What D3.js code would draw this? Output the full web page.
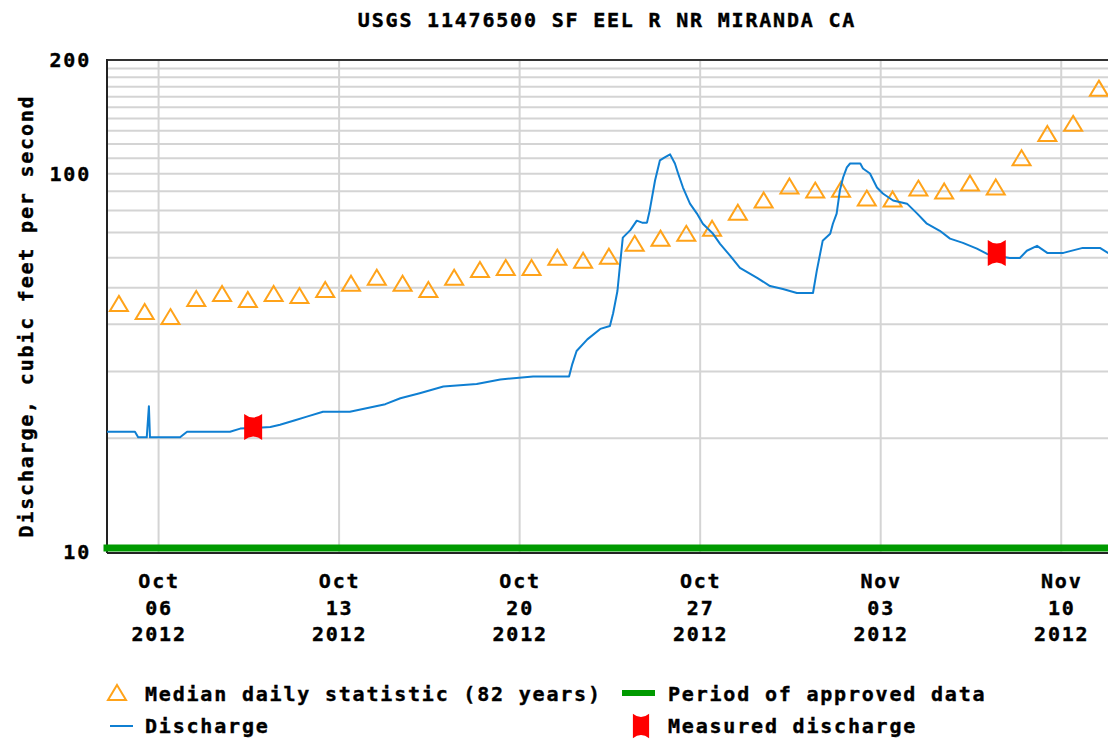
<!DOCTYPE html>
<html>
<head>
<meta charset="utf-8">
<script src="https://cdn.jsdelivr.net/npm/d3@7"></script>
<style>
  body { margin: 0; background: #fff; }
  text { font-family: "DejaVu Sans Mono", monospace; font-weight: bold; font-size: 20px; letter-spacing: 1.8px; fill: #000; stroke: #000; stroke-width: 0.4px; }
</style>
</head>
<body>
<div id="chart"></div>
<script>
// chart data
var title = "USGS 11476500 SF EEL R NR MIRANDA CA";
var yLabel = "Discharge, cubic feet per second";

var medianStart = "2012-10-04";
var medianValues = [45.3, 43.1, 41.8, 46.7, 48.1, 46.4, 48.1, 47.5, 49.3, 51.2,
                    53.1, 51.2, 49.3, 53.1, 55.7, 56.4, 56.4, 60.0, 58.9, 60.4,
                    65.3, 67.4, 69.4, 71.6, 78.9, 85.0, 92.6, 90.3, 90.8, 86.0,
                    85.5, 91.4, 89.8, 94.3, 92.0, 110.0, 127.5, 135.6, 168.0];

var dischargeTimes = [
  "2012-10-04 00:00", "2012-10-05 02:00", "2012-10-05 05:00", "2012-10-05 13:00", "2012-10-05 15:00",
  "2012-10-05 16:00", "2012-10-06 20:00", "2012-10-07 02:30", "2012-10-08 18:30", "2012-10-09 04:00",
  "2012-10-10 08:00", "2012-10-10 17:00", "2012-10-11 07:00", "2012-10-11 18:00", "2012-10-12 09:00",
  "2012-10-13 10:00", "2012-10-14 19:00", "2012-10-15 09:00", "2012-10-16 03:00", "2012-10-17 01:00",
  "2012-10-18 08:00", "2012-10-19 06:00", "2012-10-20 12:30", "2012-10-21 22:00", "2012-10-22 01:00",
  "2012-10-22 05:00", "2012-10-22 15:00", "2012-10-23 03:00", "2012-10-23 12:00", "2012-10-23 15:00",
  "2012-10-23 19:00", "2012-10-23 21:30", "2012-10-24 00:00", "2012-10-24 07:00", "2012-10-24 13:00",
  "2012-10-24 18:00", "2012-10-24 22:30", "2012-10-25 01:00", "2012-10-25 06:00", "2012-10-25 10:30",
  "2012-10-25 15:00", "2012-10-25 20:00", "2012-10-26 00:30", "2012-10-26 03:30", "2012-10-26 08:00",
  "2012-10-26 14:30", "2012-10-26 21:00", "2012-10-27 02:30", "2012-10-27 12:00", "2012-10-27 18:30",
  "2012-10-28 04:00", "2012-10-28 13:00", "2012-10-29 05:00", "2012-10-29 17:00", "2012-10-30 05:00",
  "2012-10-30 18:00", "2012-10-31 09:00", "2012-10-31 12:30", "2012-10-31 18:00", "2012-11-01 01:00",
  "2012-11-01 03:30", "2012-11-01 07:00", "2012-11-01 10:00", "2012-11-01 13:00", "2012-11-01 16:30",
  "2012-11-01 19:30", "2012-11-02 05:00", "2012-11-02 07:30", "2012-11-02 14:00", "2012-11-02 20:30",
  "2012-11-03 02:00", "2012-11-03 11:30", "2012-11-04 00:30", "2012-11-04 10:00", "2012-11-04 19:00",
  "2012-11-05 07:00", "2012-11-05 16:30", "2012-11-06 04:30", "2012-11-06 17:30", "2012-11-07 03:00",
  "2012-11-07 12:00", "2012-11-08 00:00", "2012-11-08 09:30", "2012-11-08 16:00", "2012-11-09 01:30",
  "2012-11-09 11:00", "2012-11-10 02:00", "2012-11-10 20:00", "2012-11-11 12:00", "2012-11-11 19:30",
  "2012-11-12 00:00"
];
var dischargeValues = [
  20.8, 20.8, 20.1, 20.1, 24.3,
  20.1, 20.1, 20.8, 20.8, 21.2,
  21.4, 21.7, 22.3, 22.8, 23.5,
  23.5, 24.6, 25.5, 26.3, 27.4,
  27.8, 28.6, 29.1, 29.1, 31.4,
  34.0, 36.5, 38.9, 39.6, 42.8,
  49.0, 57.8, 67.8, 71.0, 75.2,
  74.3, 74.3, 79.9, 96.0, 108.5,
  110.5, 112.6, 106.5, 100.2, 92.0,
  83.4, 78.5, 73.8, 69.4, 65.3,
  60.7, 56.4, 53.1, 50.5, 49.6,
  48.4, 48.4, 55.4, 66.5, 69.4,
  73.8, 78.5, 90.3, 97.8, 104.0,
  106.5, 106.5, 103.3, 100.2, 92.0,
  88.7, 85.0, 83.4, 78.5, 73.8,
  70.7, 67.4, 65.7, 63.4, 61.4,
  60.7, 59.9, 59.9, 62.6, 64.5,
  61.8, 61.8, 63.7, 63.7, 61.8,
  61.8
];

var measuredTimes = ["2012-10-09 16:00", "2012-11-07 12:00"];
var measuredValues = [21.4, 61.8];

var approvedPeriod = ["2012-10-04 00:00", "2012-11-12 00:00"];
var xDomain = ["2012-10-04 00:00", "2012-11-12 00:00"];
var xTicks = ["2012-10-06", "2012-10-13", "2012-10-20", "2012-10-27", "2012-11-03", "2012-11-10"];
var yTickLabels = [10, 100, 200];
var yGridValues = [20, 30, 40, 50, 60, 70, 80, 90, 100, 110, 120, 130, 140, 150, 160, 170, 180, 190];

// set the dimensions
var W = 1108, H = 740;
var plotLeft = 107, plotTop = 60, plotBottom = 552;
var plotRight = plotLeft + 39 * 25.79;

var parseTime = d3.timeParse("%Y-%m-%d %H:%M");
var parseDay = d3.timeParse("%Y-%m-%d");

var svg = d3.select("#chart")
  .append("svg")
    .attr("width", W)
    .attr("height", H);

var x = d3.scaleTime()
  .domain(xDomain.map(parseTime))
  .range([plotLeft, plotRight]);

var y = d3.scaleLog()
  .domain([10, 200])
  .range([plotBottom, plotTop]);

// grid lines
svg.append("g")
  .selectAll("line")
  .data(yGridValues)
  .enter()
  .append("line")
    .attr("x1", plotLeft).attr("x2", plotRight)
    .attr("y1", function(d) { return y(d); })
    .attr("y2", function(d) { return y(d); })
    .attr("stroke", "#d4d4d4")
    .attr("stroke-width", 2);

svg.append("g")
  .selectAll("line")
  .data(xTicks)
  .enter()
  .append("line")
    .attr("x1", function(d) { return x(parseDay(d)); })
    .attr("x2", function(d) { return x(parseDay(d)); })
    .attr("y1", plotTop).attr("y2", plotBottom)
    .attr("stroke", "#d4d4d4")
    .attr("stroke-width", 2);

// frame
svg.append("line")
  .attr("x1", plotLeft).attr("x2", plotRight)
  .attr("y1", plotTop).attr("y2", plotTop)
  .attr("stroke", "#333").attr("stroke-width", 2);
svg.append("line")
  .attr("x1", plotLeft).attr("x2", plotLeft)
  .attr("y1", plotTop - 1).attr("y2", plotBottom + 1)
  .attr("stroke", "#222").attr("stroke-width", 2);
svg.append("line")
  .attr("x1", plotLeft).attr("x2", plotRight)
  .attr("y1", plotBottom + 1).attr("y2", plotBottom + 1)
  .attr("stroke", "#222").attr("stroke-width", 2);

// period of approved data
svg.append("line")
  .attr("x1", x(parseTime(approvedPeriod[0]))).attr("x2", x(parseTime(approvedPeriod[1])))
  .attr("y1", plotBottom - 4).attr("y2", plotBottom - 4)
  .attr("stroke", "#009a00")
  .attr("stroke-width", 7)
  .attr("stroke-linecap", "square");

// Y axis labels
svg.append("g")
  .attr("transform", "translate(" + plotLeft + ",0)")
  .call(d3.axisLeft(y).tickValues(yTickLabels).tickSize(0).tickPadding(16).tickFormat(d3.format("d")))
  .call(function(g) { g.select(".domain").remove(); })
  .selectAll("text")
    .style("font-family", "DejaVu Sans Mono, monospace")
    .style("font-size", "20px")
    .style("font-weight", "bold")
    .attr("fill", "#000");

// X axis labels (three lines each)
var xAxis = svg.append("g")
  .attr("transform", "translate(0," + plotBottom + ")")
  .call(d3.axisBottom(x).tickValues(xTicks.map(parseDay)).tickSize(0).tickFormat(""));
xAxis.select(".domain").remove();
xAxis.selectAll(".tick text").remove();
var fmts = [d3.timeFormat("%b"), d3.timeFormat("%d"), d3.timeFormat("%Y")];
xAxis.selectAll(".tick").each(function(d) {
  var t = d3.select(this).append("text")
    .attr("text-anchor", "middle")
    .attr("fill", "#000");
  fmts.forEach(function(f, i) {
    t.append("tspan")
      .attr("x", 0)
      .attr("y", 29 + i * 26.5)
      .attr("dominant-baseline", "central")
      .text(f(d));
  });
});

// median daily statistic triangles
var tri = "M0,-8 L9,7 L-9,7 Z";
svg.append("g")
  .selectAll("path")
  .data(medianValues)
  .enter()
  .append("path")
    .attr("d", tri)
    .attr("transform", function(d, i) {
      var day = d3.timeHour.offset(d3.timeDay.offset(parseDay(medianStart), i), 12);
      return "translate(" + (x(day) - 1) + "," + y(d) + ")";
    })
    .attr("fill", "none")
    .attr("stroke", "#ffa31a")
    .attr("stroke-width", 2);

// discharge line
var discharge = dischargeTimes.map(function(t, i) {
  return {date: parseTime(t), value: dischargeValues[i]};
});
svg.append("path")
  .datum(discharge)
  .attr("fill", "none")
  .attr("stroke", "#0f7fd2")
  .attr("stroke-width", 2)
  .attr("stroke-linejoin", "round")
  .attr("d", d3.line()
    .x(function(d) { return x(d.date); })
    .y(function(d) { return y(d.value); }));

// measured discharge markers
var bow = "M-9,-13 Q0,-6 9,-13 L9,13 Q0,6 -9,13 Z";
svg.append("g")
  .selectAll("path")
  .data(measuredValues)
  .enter()
  .append("path")
    .attr("d", bow)
    .attr("transform", function(d, i) {
      return "translate(" + x(parseTime(measuredTimes[i])) + "," + y(d) + ")";
    })
    .attr("fill", "#ff0000");

// title
svg.append("text")
  .attr("x", 607).attr("y", 20)
  .attr("text-anchor", "middle")
  .attr("dominant-baseline", "central")
  .text(title);

// y label
svg.append("text")
  .attr("transform", "translate(26,316) rotate(-90)")
  .attr("text-anchor", "middle")
  .attr("dominant-baseline", "central")
  .text(yLabel);

// legend
var lg = svg.append("g");
lg.append("path").attr("d", tri)
  .attr("transform", "translate(117,693)")
  .attr("fill", "none").attr("stroke", "#ffa31a").attr("stroke-width", 2);
lg.append("text").attr("x", 145).attr("y", 694).attr("dominant-baseline", "central")
  .text("Median daily statistic (82 years)");
lg.append("line").attr("x1", 622).attr("x2", 655).attr("y1", 693).attr("y2", 693)
  .attr("stroke", "#009a00").attr("stroke-width", 6);
lg.append("text").attr("x", 668).attr("y", 694).attr("dominant-baseline", "central")
  .text("Period of approved data");
lg.append("line").attr("x1", 110).attr("x2", 133).attr("y1", 726).attr("y2", 726)
  .attr("stroke", "#0f7fd2").attr("stroke-width", 2);
lg.append("text").attr("x", 145).attr("y", 726).attr("dominant-baseline", "central")
  .text("Discharge");
lg.append("path").attr("d", bow)
  .attr("transform", "translate(641,726) scale(0.9,0.95)")
  .attr("fill", "#ff0000");
lg.append("text").attr("x", 668).attr("y", 726).attr("dominant-baseline", "central")
  .text("Measured discharge");
</script>
</body>
</html>
